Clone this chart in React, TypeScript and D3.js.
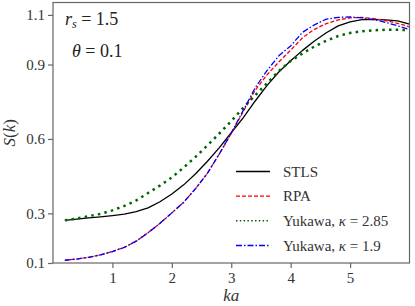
import React, {useRef, useEffect} from 'react';
import * as d3 from 'd3';

const ka = [0.2, 0.4, 0.6, 0.8, 1.0, 1.2, 1.4, 1.6, 1.8, 2.0, 2.2, 2.4, 2.6, 2.8, 3.0,
    3.2, 3.4, 3.6, 3.8, 4.0, 4.2, 4.4, 4.6, 4.8, 5.0, 5.2, 5.4, 5.6, 5.8, 6.0];

const stls = [0.272, 0.277, 0.282, 0.286, 0.291, 0.297, 0.307, 0.322, 0.347, 0.378, 0.415, 0.460, 0.510, 0.565, 0.625,
    0.685, 0.752, 0.815, 0.870, 0.915, 0.957, 0.995, 1.028, 1.056, 1.072, 1.081, 1.082, 1.080, 1.076, 1.063];

const rpa = [0.111, 0.116, 0.123, 0.133, 0.146, 0.163, 0.188, 0.222, 0.260, 0.302, 0.345, 0.400, 0.462, 0.540, 0.622,
    0.710, 0.795, 0.858, 0.910, 0.958, 1.008, 1.042, 1.065, 1.080, 1.088, 1.090, 1.085, 1.077, 1.066, 1.052];

const yuk285 = [0.272, 0.279, 0.289, 0.298, 0.312, 0.330, 0.352, 0.382, 0.412, 0.445, 0.485, 0.528, 0.574, 0.622, 0.672,
    0.725, 0.775, 0.824, 0.874, 0.914, 0.945, 0.973, 0.996, 1.015, 1.027, 1.034, 1.038, 1.040, 1.040, 1.038];

const yuk19 = [0.111, 0.116, 0.123, 0.133, 0.146, 0.163, 0.188, 0.222, 0.260, 0.302, 0.345, 0.400, 0.462, 0.540, 0.624,
    0.714, 0.805, 0.875, 0.935, 0.975, 1.030, 1.060, 1.083, 1.090, 1.092, 1.088, 1.081, 1.070, 1.056, 1.041];

const xTicks = [1, 2, 3, 4, 5];
const yTicks = [0.1, 0.3, 0.6, 0.9, 1.1];

const seriesNames = ['STLS', 'RPA', 'Yukawa, κ = 2.85', 'Yukawa, κ = 1.9'];

const cfg = {
    w: 415,
    h: 306,
    left: 53,
    right: 409.5,
    top: 2.5,
    bottom: 263,
    font: 'Liberation Serif, serif'
};

const styles = [
    {color: '#000000', width: 1.3, dash: null},
    {color: '#ff0000', width: 1.3, dash: '4,2'},
    {color: '#006400', width: 2.5, dash: '2.5,4.2'},
    {color: '#0000ff', width: 1.3, dash: '6,2,1.5,2'}
];

const App = () => {
    const svgRef = useRef(null);

    useEffect(() => {
        const svg = d3.select(svgRef.current);
        svg.selectAll('*').remove();

        const x = d3.scaleLinear().domain([0, 6]).range([cfg.left, cfg.right]);
        const y = d3.scaleLinear().domain([0.1, 1.15]).range([cfg.bottom, cfg.top]);

        const values = [stls, rpa, yuk285, yuk19];
        const line = d3.line().x(d => x(d[0])).y(d => y(d[1])).curve(d3.curveLinear);

        const plot = svg.append('g');
        values.forEach((vals, i) => {
            const pts = ka.map((k, j) => [k, vals[j]]);
            const p = plot.append('path')
                .attr('d', line(pts))
                .attr('fill', 'none')
                .attr('stroke', styles[i].color)
                .attr('stroke-width', styles[i].width)
                .attr('stroke-linejoin', 'round');
            if (styles[i].dash) p.attr('stroke-dasharray', styles[i].dash);
        });

        // frame
        svg.append('rect')
            .attr('x', cfg.left).attr('y', cfg.top)
            .attr('width', cfg.right - cfg.left).attr('height', cfg.bottom - cfg.top)
            .attr('fill', 'none').attr('stroke', '#666').attr('stroke-width', 1.2);

        // axes, domain drawn by the frame
        const xAxis = svg.append('g')
            .attr('transform', `translate(0,${cfg.bottom})`)
            .call(d3.axisBottom(x).tickValues(xTicks).tickSize(5).tickPadding(4).tickFormat(d3.format('d')));
        xAxis.select('.domain').remove();

        const yAxis = svg.append('g')
            .attr('transform', `translate(${cfg.left},0)`)
            .call(d3.axisLeft(y).tickValues(yTicks).tickSize(5).tickPadding(3).tickFormat(d3.format('.1f')));
        yAxis.select('.domain').remove();

        svg.selectAll('.tick line').attr('stroke', '#666').attr('stroke-width', 1.2);
        svg.selectAll('.tick text')
            .attr('fill', '#333')
            .style('font-family', cfg.font)
            .attr('font-size', 15);

        // axis labels
        svg.append('text')
            .attr('x', (cfg.left + cfg.right) / 2).attr('y', 301)
            .attr('text-anchor', 'middle')
            .style('font-family', cfg.font).attr('font-size', 17).attr('font-style', 'italic')
            .attr('fill', '#333')
            .text('ka');

        const yl = svg.append('text')
            .attr('transform', `translate(15,${(cfg.top + cfg.bottom) / 2}) rotate(-90)`)
            .attr('text-anchor', 'middle')
            .style('font-family', cfg.font).attr('font-size', 17)
            .attr('fill', '#333');
        yl.append('tspan').attr('font-style', 'italic').text('S');
        yl.append('tspan').text('(');
        yl.append('tspan').attr('font-style', 'italic').text('k');
        yl.append('tspan').text(')');

        // annotations
        const a1 = svg.append('text').attr('x', 65).attr('y', 25)
            .style('font-family', cfg.font).attr('font-size', 18).attr('fill', '#222');
        a1.append('tspan').attr('font-style', 'italic').text('r');
        a1.append('tspan').attr('font-style', 'italic').attr('font-size', 12).attr('dy', 3).text('s');
        a1.append('tspan').attr('dy', -3).text(' = 1.5');

        const a2 = svg.append('text').attr('x', 72).attr('y', 57)
            .style('font-family', cfg.font).attr('font-size', 18).attr('fill', '#222');
        a2.append('tspan').attr('font-style', 'italic').text('θ');
        a2.append('tspan').text(' = 0.1');

        // legend
        const legY = d3.scaleLinear().domain([0, 3]).range([171.5, 245.5]);
        seriesNames.forEach((name, i) => {
            const g = svg.append('g').attr('transform', `translate(0,${legY(i)})`);
            const l = g.append('line')
                .attr('x1', 236).attr('x2', 270).attr('y1', 0).attr('y2', 0)
                .attr('stroke', styles[i].color)
                .attr('stroke-width', i === 2 ? 1.5 : styles[i].width);
            if (styles[i].dash) l.attr('stroke-dasharray', i === 2 ? '1.5,2.3' : styles[i].dash);
            const t = g.append('text').attr('x', 283).attr('y', 5)
                .style('font-family', cfg.font).attr('font-size', 15).attr('fill', '#333');
            const parts = name.split('κ');
            t.append('tspan').text(parts[0]);
            if (parts.length > 1) {
                t.append('tspan').attr('font-style', 'italic').text('κ');
                t.append('tspan').text(parts[1]);
            }
        });
    }, []);

    return (
        <svg ref={svgRef} width={cfg.w} height={cfg.h}
             style={{position: 'absolute', left: 0, top: 0, background: '#fff'}}></svg>
    );
};

export default App;
